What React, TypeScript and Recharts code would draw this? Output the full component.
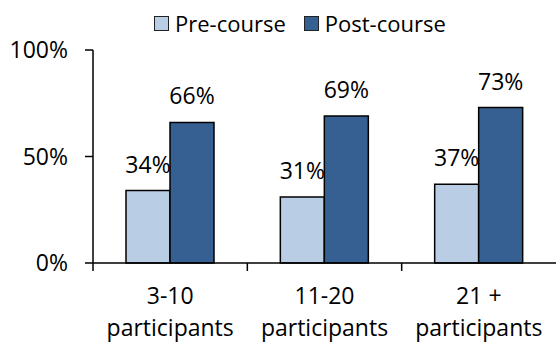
import { BarChart, Bar, XAxis, YAxis, Legend, LabelList } from 'recharts';

const categories = ['3-10', '11-20', '21 +'];
const categorySuffix = 'participants';
const preCourse = [34, 31, 37];
const postCourse = [66, 69, 73];
const yTicks = [0, 50, 100];

const FONT = '"Open Sans", sans-serif';
const PRE_COLOR = '#B9CDE5';
const POST_COLOR = '#376092';

const data = categories.map((name, i) => ({
  name,
  pre: preCourse[i],
  post: postCourse[i],
}));

function CategoryTick(props: any) {
  const { x, y, payload } = props;
  const half = payload.offset ?? 0;
  return (
    <g>
      <line x1={x - half} x2={x - half} y1={y} y2={y + 8} stroke="#000" strokeWidth={1.5} />
      <text x={x} y={y} textAnchor="middle" fontFamily={FONT} fontSize={23} fill="#000">
        <tspan x={x} dy={41}>{payload.value}</tspan>
        <tspan x={x} dy={32}>{categorySuffix}</tspan>
      </text>
    </g>
  );
}

function LegendContent() {
  const items = [
    { label: 'Pre-course', color: PRE_COLOR },
    { label: 'Post-course', color: POST_COLOR },
  ];
  return (
    <div style={{ display: 'flex', alignItems: 'center', paddingLeft: 154, height: 30, fontFamily: FONT, fontSize: 22 }}>
      {items.map((it) => (
        <div key={it.label} style={{ display: 'flex', alignItems: 'center', marginRight: 18 }}>
          <span style={{ width: 13, height: 13, background: it.color, border: '1.5px solid #222', marginRight: 6 }} />
          <span style={{ color: '#000', lineHeight: '30px' }}>{it.label}</span>
        </div>
      ))}
    </div>
  );
}

export default function App() {
  return (
    <div style={{ position: 'absolute', left: 0, top: 0, width: 556, height: 344, background: '#fff' }}>
      <BarChart
        width={556}
        height={344}
        data={data}
        margin={{ top: 20, right: 0, bottom: 0, left: 0 }}
        barGap={0}
        barSize={44}
      >
        <Legend
          verticalAlign="top"
          content={<LegendContent />}
          wrapperStyle={{ top: 8, left: 0, width: 556, height: 30 }}
        />
        <XAxis
          dataKey="name"
          height={81}
          tickLine={false}
          tickSize={0}
          tickMargin={0}
          axisLine={{ stroke: '#000', strokeWidth: 1.5 }}
          tick={<CategoryTick />}
          interval={0}
        />
        <YAxis
          width={93}
          domain={[0, 100]}
          ticks={yTicks}
          tickFormatter={(v: number) => `${v}%`}
          tickSize={8}
          tickMargin={17}
          axisLine={{ stroke: '#000', strokeWidth: 1.5 }}
          tickLine={{ stroke: '#000', strokeWidth: 1.5 }}
          tick={{ fontFamily: FONT, fontSize: 23, fill: '#000' }}
        />
        <Bar dataKey="pre" name="Pre-course" fill={PRE_COLOR} stroke="#000" strokeWidth={1.5} isAnimationActive={false}>
          <LabelList dataKey="pre" position="top" offset={18} formatter={(v: any) => `${v}%`} style={{ fontFamily: FONT, fontSize: 23, fill: '#000' }} />
        </Bar>
        <Bar dataKey="post" name="Post-course" fill={POST_COLOR} stroke="#000" strokeWidth={1.5} isAnimationActive={false}>
          <LabelList dataKey="post" position="top" offset={18} formatter={(v: any) => `${v}%`} style={{ fontFamily: FONT, fontSize: 23, fill: '#000' }} />
        </Bar>
      </BarChart>
    </div>
  );
}
